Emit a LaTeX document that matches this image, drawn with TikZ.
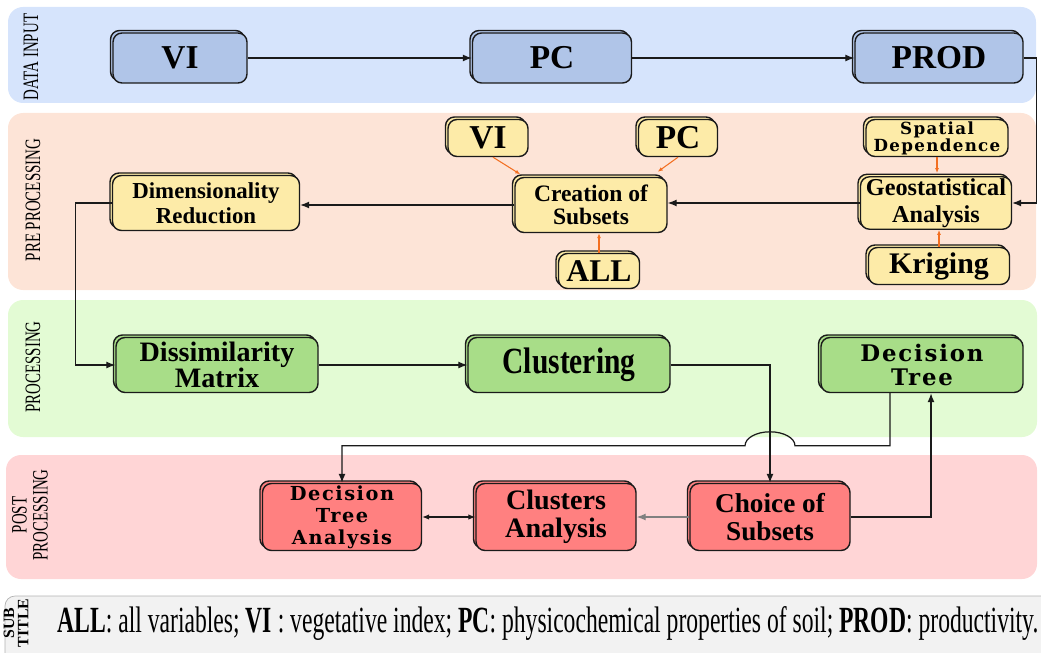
\documentclass[tikz,border=0pt]{standalone}
\usepackage{fontspec}
\setmainfont{Liberation Serif}
\newfontfamily\condfont[FakeStretch=0.68]{Liberation Serif}
\newfontfamily\subfont[FakeStretch=0.64]{Liberation Serif}
\newfontfamily\clusfont[FakeStretch=0.8]{Liberation Serif}
\newfontfamily\widefont[LetterSpace=8]{DejaVu Serif}
\usetikzlibrary{arrows.meta,positioning,shadows,calc,backgrounds}
\definecolor{bandblue}{HTML}{D6E4FC}
\definecolor{bandpeach}{HTML}{FDE4D7}
\definecolor{bandgreen}{HTML}{E3FBD4}
\definecolor{bandpink}{HTML}{FFD5D6}
\definecolor{bandgray}{HTML}{F2F2F2}
\definecolor{fillblue}{HTML}{B0C5E8}
\definecolor{fillyellow}{HTML}{FDEBA8}
\definecolor{fillgreen}{HTML}{A8DD88}
\definecolor{fillred}{HTML}{FF8080}
\definecolor{edge}{HTML}{1A1A1A}
\definecolor{feedc}{HTML}{F36F21}

\begin{document}
\begin{tikzpicture}[x=0.2mm,y=-0.2mm,
  blk/.style={draw=edge,line width=0.8pt,rounded corners=1.8mm,align=center,inner sep=1pt,fill=#1,
    copy shadow={shadow xshift=-0.5mm,shadow yshift=0.5mm,fill=#1,draw=edge,line width=0.8pt}},
  arr/.style={-{Latex[length=1.8mm,width=1.4mm]},line width=0.7pt,draw=edge},
  feed/.style={-{Latex[length=1mm,width=0.8mm]},line width=0.6pt,draw=feedc},
  lbl/.style={rotate=90,align=center,font=\condfont\fontsize{12.5}{12}\selectfont}]
  \useasboundingbox (0,0) rectangle (1041,652);
  \clip (0,0) rectangle (1041,652);
  % Bands
  \fill[bandblue,rounded corners=3mm] (8,7) rectangle (1036,103);
  \fill[bandpeach,rounded corners=3mm] (8,113) rectangle (1036,290);
  \fill[bandgreen,rounded corners=3mm] (8,300) rectangle (1037,437);
  \fill[bandpink,rounded corners=3mm] (6,455) rectangle (1037,579);
  \filldraw[fill=bandgray,draw=gray!60,rounded corners=2mm] (5,596) rectangle (1060,670);
  \node[lbl] (lbdata) at (31,57) {DATA INPUT};
  \node[lbl] (lbpre) at (33,200) {PRE PROCESSING};
  \node[lbl] (lbproc) at (33,367) {PROCESSING};
  \node[lbl] (lbpost) at (30,515) {POST\\PROCESSING};
  \node[rotate=90,align=center,font=\bfseries\fontsize{9}{8}\selectfont] (lbsub) at (16,623) {SUB\\TITLE};
  % Data input
  \node[blk=fillblue,minimum width=26.8mm,minimum height=10mm,font=\bfseries\fontsize{19}{21}\selectfont] (vi) at (180,58) {VI};
  \node[blk=fillblue,minimum width=31.8mm,minimum height=10mm,font=\bfseries\fontsize{19}{21}\selectfont] (pc) at (552,58) {PC};
  \node[blk=fillblue,minimum width=33.6mm,minimum height=10mm,font=\bfseries\fontsize{19}{21}\selectfont] (prod) at (939,58) {PROD};
  % Pre processing
  \node[blk=fillyellow,minimum width=16mm,minimum height=7.4mm,font=\bfseries\fontsize{19}{21}\selectfont] (vis) at (488,138) {VI};
  \node[blk=fillyellow,minimum width=15.8mm,minimum height=7.4mm,font=\bfseries\fontsize{19}{21}\selectfont] (pcs) at (678,138) {PC};
  \node[blk=fillyellow,minimum width=28.4mm,minimum height=7.4mm,font=\widefont\bfseries\fontsize{9.5}{9.6}\selectfont] (sp) at (937,138) {Spatial\\Dependence};
  \node[blk=fillyellow,minimum width=30.4mm,minimum height=11mm,font=\bfseries\fontsize{13.4}{13}\selectfont] (cr) at (591,205) {Creation of\\Subsets};
  \node[blk=fillyellow,minimum width=30.2mm,minimum height=10.4mm,font=\bfseries\fontsize{13.8}{15.3}\selectfont] (geo) at (936,203) {Geostatistical\\Analysis};
  \node[blk=fillyellow,minimum width=16.2mm,minimum height=7mm,font=\bfseries\fontsize{18}{20}\selectfont] (all) at (599,271) {ALL};
  \node[blk=fillyellow,minimum width=28.2mm,minimum height=7.4mm,font=\bfseries\fontsize{17}{19}\selectfont] (kr) at (939,266) {Kriging};
  \node[blk=fillyellow,minimum width=37.4mm,minimum height=11mm,font=\bfseries\fontsize{13}{14.2}\selectfont] (dim) at (206,203) {Dimensionality\\Reduction};
  % Processing
  \node[blk=fillgreen,minimum width=40.4mm,minimum height=11mm,font=\bfseries\fontsize{16}{14.7}\selectfont] (diss) at (217,365) {Dissimilarity\\Matrix};
  \node[blk=fillgreen,minimum width=40.4mm,minimum height=11mm,font=\clusfont\bfseries\fontsize{21}{22}\selectfont] (cl) at (569,365) {Clustering};
  \node[blk=fillgreen,minimum width=40.4mm,minimum height=11mm,font=\widefont\bfseries\fontsize{13}{13.6}\selectfont] (dt) at (922,365) {Decision\\Tree};
  % Post processing
  \node[blk=fillred,minimum width=31.8mm,minimum height=13.4mm,font=\widefont\bfseries\fontsize{11}{12.5}\selectfont] (dta) at (342,517) {Decision\\Tree\\Analysis};
  \node[blk=fillred,minimum width=32mm,minimum height=13.4mm,font=\bfseries\fontsize{16}{16}\selectfont] (ca) at (556,517) {Clusters\\Analysis};
  \node[blk=fillred,minimum width=32mm,minimum height=13.4mm,font=\bfseries\fontsize{15.5}{16.4}\selectfont] (ch) at (770,517) {Choice of\\Subsets};
  % Subtitle
  \node[anchor=west,inner sep=0pt,font=\subfont\fontsize{21}{22}\selectfont] (legend) at (57,623)
    {\textbf{ALL}: all variables; \textbf{VI} : vegetative index; \textbf{PC}: physicochemical properties of soil; \textbf{PROD}: productivity.};
  % Connectors
  \draw[arr] (vi) -- (pc);
  \draw[arr] (pc) -- (prod);
  \draw[arr] (prod.east) -- ++(2.6mm,0) |- (geo.east);
  \draw[arr] (geo.west) -- (geo.west -| cr.east);
  \draw[arr] (cr.west) -- (cr.west -| dim.east);
  \draw[arr] (dim.west) -- ++(-7.2mm,0) |- (diss.west);
  \draw[feed] ([xshift=1mm]vis.south) -- ([xshift=1.2mm,yshift=0.5mm]cr.north west);
  \draw[feed] (pcs.south) -- ([xshift=-2mm,yshift=1mm]cr.north east);
  \draw[feed] (all.north) -- (all.north |- cr.south);
  \draw[feed] (sp.south) -- ([yshift=0.6mm]sp.south |- geo.north);
  \draw[feed] (kr.north) -- (kr.north |- geo.south);
  \draw[arr] (diss) -- (cl);
  \draw[arr] (cl.east) -| (ch.north);
  \coordinate (hop) at ([yshift=7.4mm]ch.north);
  \draw[arr] ([xshift=-6.4mm]dt.south) |- ([xshift=5mm]hop)
    arc[start angle=0,end angle=180,x radius=5mm,y radius=2.8mm] -- (hop -| dta.north) -- (dta.north);
  \draw[arr] (ch.east) -| ([xshift=1.8mm]dt.south);
  \draw[arr,draw=gray] (ch) -- (ca);
  \draw[{Latex[length=1.4mm,width=1.1mm]}-{Latex[length=1.4mm,width=1.1mm]},line width=0.6pt,draw=edge] (ca) -- (dta);
\end{tikzpicture}
\end{document}
